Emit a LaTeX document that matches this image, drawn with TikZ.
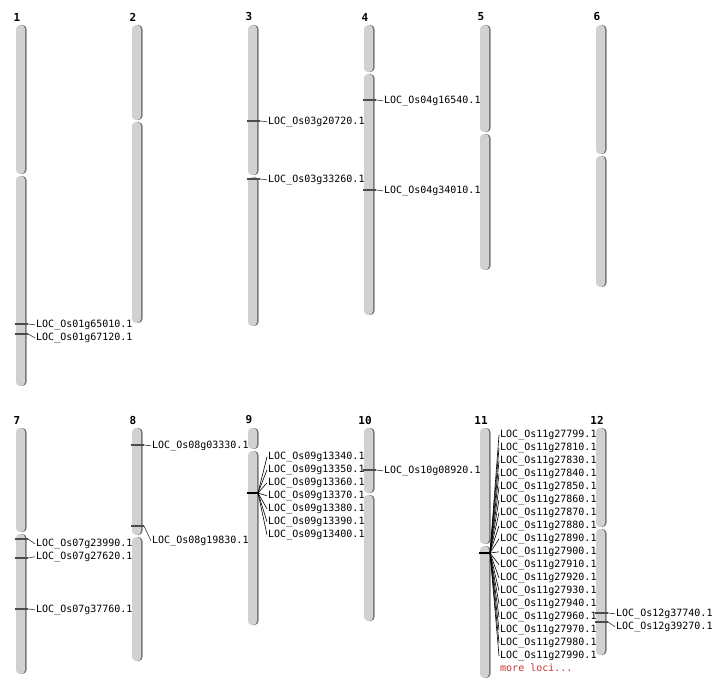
\documentclass[tikz,border=0pt]{standalone}
\usepackage{fontspec}
\setmainfont{DejaVu Sans}
\setmonofont{DejaVu Sans Mono}
\colorlet{chr body}{black!18}
\colorlet{chr edge}{black!55}
\colorlet{tick line}{black!70}
\definecolor{more red}{RGB}{204,51,51}
\tikzset{x=1pt, y=-1pt,
    body/.style={fill=chr body, rounded corners=4pt},
    edge shade/.style={fill=chr edge, rounded corners=4pt},
    chr num/.style={font=\ttfamily\bfseries\fontsize{11}{13}\selectfont, inner sep=0pt},
    loc/.style={font=\ttfamily\fontsize{10}{12}\selectfont, anchor=mid west, inner sep=1pt},
    tick/.style={draw=tick line, line width=1.2pt},
    link/.style={draw=tick line, line width=0.7pt},
    fan/.style={draw=black, line width=0.6pt},
    cluster/.style={draw=black, line width=2.5pt}}
% #1 x, #2 top, #3 centromere, #4 bottom, #5 number
\newcommand{\chromosome}[5]{%
  \foreach \ya/\yb in {#2/#3-1, #3+1/#4} {
    \fill[edge shade] (#1+1.5,\ya) rectangle (#1+10.5,\yb);
    \fill[body] (#1,\ya) rectangle (#1+9,\yb);
  }
  \node[chr num] (chr#5) at (#1+1,#2-8) {#5};
}
% #1 x, #2 tick y, #3 label y, #4 locus
\newcommand{\locus}[4]{%
  \coordinate (#4 t) at (#1+12,#2);
  \draw[tick] (#1-1,#2) -- (#4 t);
  \node[loc] (#4) at (#1+19,#3+0.8) {LOC\_Os#4.1};
  \draw[link] (#4 t) -- (#4.mid west);
}
% #1 x, #2 tick y, #3 first label y, #4 chromosome, #5 loci
\newcommand{\cluster}[5]{%
  \coordinate (c#4 t) at (#1+10,#2);
  \draw[cluster] (#1-1,#2) -- (#1+11,#2);
  \foreach \g [count=\i from 0] in {#5} {
    \node[loc] (#4g\g) at (#1+19,#3+0.8+13*\i) {LOC\_Os#4g\g.1};
    \draw[fan] (c#4 t) -- (#4g\g.mid west);
  }
}

\begin{document}
\begin{tikzpicture}
    \useasboundingbox (0,0) rectangle (712,700);
    \foreach \cx/\ctop/\ccen/\cbot/\cn in {16/25/175/386/1, 132/25/121/323/2,
        248/25/176/326/3, 364/25/73/315/4, 480/25/133/270/5, 596/25/155/287/6,
        16/428/533/674/7, 132/428/536/661/8, 248/428/450/625/9,
        364/428/494/621/10, 480/428/545/678/11, 596/428/528/655/12}
      \chromosome{\cx}{\ctop}{\ccen}{\cbot}{\cn};
    % single loci
    \locus{16}{324}{324}{01g65010}
    \locus{16}{334}{337}{01g67120}
    \locus{248}{121}{121}{03g20720}
    \locus{248}{179}{179}{03g33260}
    \locus{364}{100}{100}{04g16540}
    \locus{364}{190}{190}{04g34010}
    \locus{16}{539}{543}{07g23990}
    \locus{16}{558}{556}{07g27620}
    \locus{16}{609}{609}{07g37760}
    \locus{132}{445}{445}{08g03330}
    \locus{132}{526}{540}{08g19830}
    \locus{364}{470}{470}{10g08920}
    \locus{596}{613}{613}{12g37740}
    \locus{596}{622}{626}{12g39270}
    % clustered loci
    \cluster{248}{493}{456}{09}{13340,13350,13360,13370,13380,13390,13400}
    \cluster{480}{553}{434}{11}{27799,27810,27830,27840,27850,27860,27870,
        27880,27890,27900,27910,27920,27930,27940,27960,27970,27980,27990}
    \node[loc, text=more red] (more) at (499,668.8) {more loci...};
\end{tikzpicture}
\end{document}
